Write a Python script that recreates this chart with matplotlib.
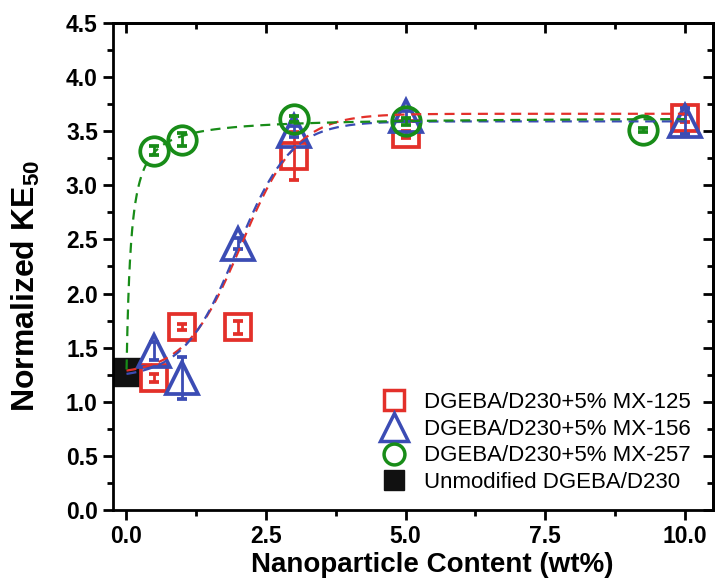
import numpy as np
import matplotlib
matplotlib.use("Agg")
import matplotlib.pyplot as plt
from matplotlib.lines import Line2D
from matplotlib.ticker import MultipleLocator, FormatStrFormatter

plt.rcParams['font.family'] = ['Liberation Sans', 'DejaVu Sans']
plt.rcParams['mathtext.fontset'] = 'custom'
plt.rcParams['mathtext.rm'] = 'Liberation Sans'
plt.rcParams['mathtext.bf'] = 'Liberation Sans:bold'

# ---- data ----
x_mx125 = [0.5, 1.0, 2.0, 3.0, 5.0, 10.0]
y_mx125 = [1.22, 1.69, 1.69, 3.27, 3.47, 3.62]
e_mx125 = [0.04, 0.03, 0.06, 0.22, 0.03, 0.04]

x_mx156 = [0.5, 1.0, 2.0, 3.0, 5.0, 10.0]
y_mx156 = [1.47, 1.22, 2.46, 3.50, 3.64, 3.59]
e_mx156 = [0.08, 0.19, 0.05, 0.05, 0.05, 0.12]

x_mx257 = [0.5, 1.0, 3.0, 5.0, 9.25]
y_mx257 = [3.32, 3.42, 3.61, 3.59, 3.51]
e_mx257 = [0.04, 0.06, 0.03, 0.03, 0.02]

x_neat = [0.0]
y_neat = [1.28]

labels = ["DGEBA/D230+5% MX-125", "DGEBA/D230+5% MX-156",
          "DGEBA/D230+5% MX-257", "Unmodified DGEBA/D230"]

# fitted curve parameters (Boltzmann: A1, A2, x0, dx ; logistic: A1, A2, x0, p)
fit_mx125 = (1.25, 3.66, 2.06, 0.50)
fit_mx156 = (1.22, 3.59, 1.98, 0.48)
fit_mx257 = (1.27, 3.63, 0.08, 1.0)

c_red = '#e3302a'
c_blue = '#3b4cb4'
c_green = '#188c18'

def boltzmann(x, A1, A2, x0, dx):
    return A2 + (A1 - A2) / (1 + np.exp((x - x0) / dx))

def logistic(x, A1, A2, x0, p):
    return A2 + (A1 - A2) / (1 + (x / x0) ** p)

fig = plt.figure(figsize=(7.25, 5.85), dpi=100)
ax = fig.add_axes([0.156, 0.128, 0.827, 0.833])

ms_kw = dict(linestyle='none', markerfacecolor='none', markeredgewidth=2.7,
             elinewidth=2.0, capsize=3.5, capthick=2.0)

ax.plot(x_neat, y_neat, linestyle='none', marker='s', markersize=20,
        color='#111111', zorder=2)
ax.errorbar(x_mx125, y_mx125, yerr=e_mx125, marker='s', markersize=18.5,
            color=c_red, zorder=3, **ms_kw)
ax.errorbar(x_mx156, y_mx156, yerr=e_mx156, marker='^', markersize=23,
            color=c_blue, zorder=4, **ms_kw)
ax.errorbar(x_mx257, y_mx257, yerr=e_mx257, marker='o', markersize=20.5,
            color=c_green, zorder=5, **ms_kw)

xf = np.linspace(0.0, 10.0, 600)
xg = np.linspace(0.001, 10.0, 2000)
ax.plot(xf, boltzmann(xf, *fit_mx125), color=c_red, lw=1.6, dashes=(4.5, 3), zorder=6)
ax.plot(xf, boltzmann(xf, *fit_mx156), color=c_blue, lw=1.6, dashes=(4.5, 3), zorder=6)
ax.plot(xg, logistic(xg, *fit_mx257), color=c_green, lw=1.6, dashes=(4.5, 3), zorder=6)

ax.set_xlim(-0.24, 10.5)
ax.set_ylim(0, 4.5)
ax.xaxis.set_major_locator(MultipleLocator(2.5))
ax.xaxis.set_minor_locator(MultipleLocator(1.25))
ax.yaxis.set_major_locator(MultipleLocator(0.5))
ax.yaxis.set_minor_locator(MultipleLocator(0.25))
ax.xaxis.set_major_formatter(FormatStrFormatter('%.1f'))
ax.yaxis.set_major_formatter(FormatStrFormatter('%.1f'))

for s in ax.spines.values():
    s.set_linewidth(2.0)

ax.tick_params(which='both', direction='out', top=False, right=False, width=2.0)
ax.tick_params(which='major', length=7, labelsize=16.5, pad=4)
ax.tick_params(which='minor', length=4.5)
for lab in ax.get_xticklabels() + ax.get_yticklabels():
    lab.set_fontweight('bold')

# inward ticks on top and right
axt = ax.secondary_xaxis('top')
axt.xaxis.set_major_locator(MultipleLocator(2.5))
axt.xaxis.set_minor_locator(MultipleLocator(1.25))
axt.tick_params(which='both', direction='in', width=2.0, labeltop=False)
axt.tick_params(which='major', length=7)
axt.tick_params(which='minor', length=4.5)
axr = ax.secondary_yaxis('right')
axr.yaxis.set_major_locator(MultipleLocator(0.5))
axr.yaxis.set_minor_locator(MultipleLocator(0.25))
axr.tick_params(which='both', direction='in', width=2.0, labelright=False)
axr.tick_params(which='major', length=7)
axr.tick_params(which='minor', length=4.5)
for sax in (axt, axr):
    for s in sax.spines.values():
        s.set_linewidth(2.0)

ax.set_xlabel('Nanoparticle Content (wt%)', fontsize=20, fontweight='bold')
ax.xaxis.set_label_coords(0.532, -0.085)
ax.set_ylabel(r'Normalized KE$_{\mathbf{50}}$', fontsize=23, fontweight='bold')
ax.yaxis.set_label_coords(-0.118, 0.46)

handles = [
    Line2D([], [], linestyle='none', marker='s', markersize=14, markerfacecolor='none',
           markeredgecolor=c_red, markeredgewidth=2.5),
    Line2D([], [], linestyle='none', marker='^', markersize=20, markerfacecolor='none',
           markeredgecolor=c_blue, markeredgewidth=2.5),
    Line2D([], [], linestyle='none', marker='o', markersize=15, markerfacecolor='none',
           markeredgecolor=c_green, markeredgewidth=2.5),
    Line2D([], [], linestyle='none', marker='s', markersize=15, color='#111111'),
]
leg = ax.legend(handles, labels, loc='lower right', bbox_to_anchor=(0.985, 0.008),
                frameon=False, fontsize=16, handlelength=1.5, handletextpad=0.6,
                labelspacing=0.25, borderaxespad=0.2)

fig.savefig('out.png', dpi=100)
